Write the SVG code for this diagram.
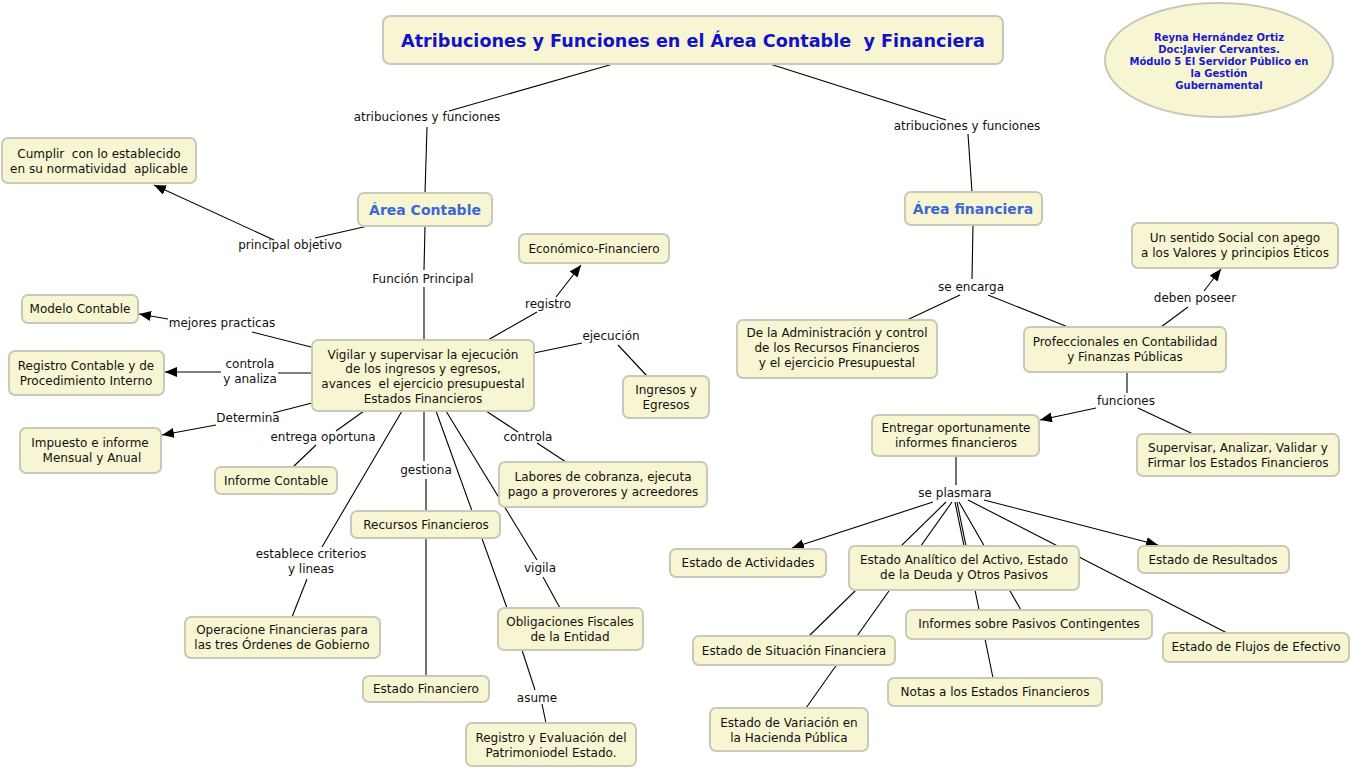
<svg xmlns="http://www.w3.org/2000/svg" width="1352" height="770" viewBox="0 0 1352 770" xml:space="preserve">
<style>
text{white-space:pre}
.n rect{fill:#f8f6d2;stroke:#c9c9b9;stroke-width:2}
.n text, .lbl text{font-family:"DejaVu Sans","Verdana",sans-serif;font-size:12px;fill:#111;text-anchor:middle}
.c line{stroke:#000;stroke-width:1.1;fill:none}
.c line.a{marker-end:url(#arr)}
.t{font-family:"DejaVu Sans",sans-serif;font-weight:bold;text-anchor:middle}
</style>
<defs>
<marker id="arr" markerUnits="userSpaceOnUse" markerWidth="13" markerHeight="11" refX="12" refY="5" orient="auto">
<path d="M0,0 L12,5 L0,10 z" fill="#000"/>
</marker>
</defs>
<rect width="1352" height="770" fill="#fff"/>

<g id="connectors" class="c">
<line x1="613" y1="64" x2="449" y2="111"/>
<line x1="427" y1="127" x2="425" y2="193"/>
<line x1="770" y1="64" x2="946" y2="120"/>
<line x1="968" y1="134" x2="972" y2="192"/>
<line x1="368" y1="226" x2="315" y2="238"/>
<line class="a" x1="274" y1="240" x2="154" y2="185"/>
<line x1="425" y1="226" x2="424" y2="270"/>
<line x1="424" y1="287" x2="424" y2="340"/>
<line x1="488" y1="340" x2="537" y2="312"/>
<line class="a" x1="556" y1="297" x2="581" y2="265"/>
<line x1="534" y1="353" x2="582" y2="343"/>
<line x1="618" y1="345" x2="647" y2="376"/>
<line x1="486" y1="411" x2="518" y2="432"/>
<line x1="537" y1="443" x2="566" y2="462"/>
<line x1="311" y1="347" x2="252" y2="332"/>
<line class="a" x1="168" y1="319" x2="139" y2="314"/>
<line x1="312" y1="373" x2="278" y2="373"/>
<line class="a" x1="221" y1="372" x2="165" y2="372"/>
<line x1="312" y1="403" x2="273" y2="413"/>
<line class="a" x1="216" y1="425" x2="162" y2="435"/>
<line x1="364" y1="411" x2="336" y2="431"/>
<line x1="316" y1="445" x2="293" y2="467"/>
<line x1="402" y1="411" x2="322" y2="547"/>
<line x1="307" y1="579" x2="292" y2="617"/>
<line x1="424" y1="411" x2="424" y2="461"/>
<line x1="426" y1="479" x2="426" y2="676"/>
<line x1="436" y1="411" x2="507" y2="608"/>
<line x1="446" y1="411" x2="537" y2="560"/>
<line x1="543" y1="577" x2="560" y2="608"/>
<line x1="522" y1="650" x2="535" y2="690"/>
<line x1="542" y1="704" x2="546" y2="723"/>
<line x1="973" y1="225" x2="972" y2="279"/>
<line x1="960" y1="295" x2="907" y2="320"/>
<line x1="988" y1="295" x2="1068" y2="327"/>
<line x1="1161" y1="327" x2="1188" y2="307"/>
<line class="a" x1="1204" y1="291" x2="1221" y2="269"/>
<line x1="1127" y1="372" x2="1127" y2="393"/>
<line class="a" x1="1096" y1="408" x2="1040" y2="420"/>
<line x1="1138" y1="408" x2="1193" y2="434"/>
<line x1="956" y1="456" x2="956" y2="485"/>
<line class="a" x1="933" y1="502" x2="792" y2="548"/>
<line x1="946" y1="502" x2="809" y2="636"/>
<line x1="952" y1="502" x2="806" y2="708"/>
<line x1="955" y1="502" x2="964" y2="546"/>
<line x1="957" y1="502" x2="993" y2="678"/>
<line x1="959" y1="502" x2="1021" y2="610"/>
<line x1="968" y1="500" x2="1227" y2="633"/>
<line class="a" x1="984" y1="500" x2="1158" y2="545"/>
</g>

<g id="labels" class="lbl">
<text x="427" y="121">atribuciones y funciones</text>
<text x="967" y="130">atribuciones y funciones</text>
<text x="290" y="249">principal objetivo</text>
<text x="423" y="283">Función Principal</text>
<text x="548" y="308">registro</text>
<text x="611" y="340">ejecución</text>
<text x="222" y="327">mejores practicas</text>
<text x="250" y="368">controla</text>
<text x="250" y="383">y analiza</text>
<text x="248" y="422">Determina</text>
<text x="323" y="441">entrega oportuna</text>
<text x="528" y="441">controla</text>
<text x="426" y="474">gestiona</text>
<text x="311" y="558">establece criterios</text>
<text x="311" y="573">y lineas</text>
<text x="540" y="572">vigila</text>
<text x="537" y="702">asume</text>
<text x="971" y="291">se encarga</text>
<text x="1195" y="302">deben poseer</text>
<text x="1126" y="405">funciones</text>
<text x="955" y="497">se plasmara</text>
</g>

<g id="title" class="n"><rect x="383" y="16" width="620" height="48" rx="7"/><text class="t" x="693" y="47" style="font-size:17.6px;fill:#1212c8">Atribuciones y Funciones en el Área Contable  y Financiera</text></g>

<g id="autor"><ellipse cx="1219" cy="60" rx="114" ry="57" fill="#f8f6d2" stroke="#c9c9b9" stroke-width="2"/>
<text class="t" style="font-size:10px;fill:#1a1acc"><tspan x="1219" y="41">Reyna Hernández Ortiz</tspan><tspan x="1219" y="53">Doc:Javier Cervantes.</tspan><tspan x="1219" y="65">Módulo 5 El Servidor Público en</tspan><tspan x="1219" y="77">la Gestión</tspan><tspan x="1219" y="89">Gubernamental</tspan></text></g>

<g id="areaContable" class="n"><rect x="358" y="193" width="134" height="33" rx="6"/><text class="t" x="425" y="215" style="font-size:14px;fill:#3b66d8">Área Contable</text></g>
<g id="areaFinanciera" class="n"><rect x="905" y="192" width="137" height="33" rx="6"/><text class="t" x="973" y="214" style="font-size:14px;fill:#3b66d8">Área financiera</text></g>

<g id="cumplir" class="n"><rect x="2" y="138" width="194" height="45" rx="6"/><text><tspan x="99" y="158">Cumplir  con lo establecido</tspan><tspan x="99" y="173">en su normatividad  aplicable</tspan></text></g>
<g id="modelo" class="n"><rect x="22" y="295" width="116" height="28" rx="6"/><text x="80" y="313">Modelo Contable</text></g>
<g id="registroContable" class="n"><rect x="9" y="351" width="155" height="44" rx="6"/><text><tspan x="86" y="370">Registro Contable y de</tspan><tspan x="86" y="385">Procedimiento Interno</tspan></text></g>
<g id="impuesto" class="n"><rect x="20" y="428" width="141" height="45" rx="6"/><text><tspan x="90" y="447">Impuesto e informe</tspan><tspan x="90" y="462"> Mensual y Anual</tspan></text></g>
<g id="informeContable" class="n"><rect x="215" y="467" width="122" height="27" rx="6"/><text x="276" y="485">Informe Contable</text></g>
<g id="vigilar" class="n"><rect x="312" y="340" width="222" height="71" rx="6"/><text><tspan x="423" y="359">Vigilar y supervisar la ejecución</tspan><tspan x="423" y="373">de los ingresos y egresos,</tspan><tspan x="423" y="388">avances  el ejercicio presupuestal</tspan><tspan x="423" y="403">Estados Financieros</tspan></text></g>
<g id="economico" class="n"><rect x="519" y="234" width="150" height="29" rx="6"/><text x="594" y="253">Económico-Financiero</text></g>
<g id="ingresos" class="n"><rect x="623" y="376" width="86" height="42" rx="6"/><text><tspan x="666" y="394">Ingresos y</tspan><tspan x="666" y="409">Egresos</tspan></text></g>
<g id="labores" class="n"><rect x="499" y="462" width="208" height="45" rx="6"/><text><tspan x="603" y="481">Labores de cobranza, ejecuta</tspan><tspan x="603" y="496">pago a proverores y acreedores</tspan></text></g>
<g id="recursos" class="n"><rect x="351" y="511" width="149" height="27" rx="6"/><text x="426" y="529">Recursos Financieros</text></g>
<g id="operacione" class="n"><rect x="185" y="617" width="195" height="41" rx="6"/><text><tspan x="282" y="634">Operacione Financieras para</tspan><tspan x="282" y="649">las tres Órdenes de Gobierno</tspan></text></g>
<g id="obligaciones" class="n"><rect x="498" y="608" width="145" height="42" rx="6"/><text><tspan x="570" y="626">Obligaciones Fiscales</tspan><tspan x="570" y="641">de la Entidad</tspan></text></g>
<g id="estadoFinanciero" class="n"><rect x="363" y="676" width="126" height="26" rx="6"/><text x="426" y="693">Estado Financiero</text></g>
<g id="registroEvaluacion" class="n"><rect x="466" y="723" width="170" height="43" rx="6"/><text><tspan x="551" y="742">Registro y Evaluación del</tspan><tspan x="551" y="757">Patrimoniodel Estado.</tspan></text></g>

<g id="administracion" class="n"><rect x="737" y="320" width="200" height="58" rx="6"/><text><tspan x="837" y="337">De la Administración y control</tspan><tspan x="837" y="352">de los Recursos Financieros</tspan><tspan x="837" y="367">y el ejercicio Presupuestal</tspan></text></g>
<g id="profeccionales" class="n"><rect x="1024" y="327" width="202" height="45" rx="6"/><text><tspan x="1125" y="346">Profeccionales en Contabilidad</tspan><tspan x="1125" y="361">y Finanzas Públicas</tspan></text></g>
<g id="sentido" class="n"><rect x="1132" y="223" width="206" height="45" rx="6"/><text><tspan x="1235" y="242">Un sentido Social con apego</tspan><tspan x="1235" y="257">a los Valores y principios Éticos</tspan></text></g>
<g id="entregar" class="n"><rect x="872" y="415" width="167" height="41" rx="6"/><text><tspan x="956" y="432">Entregar oportunamente</tspan><tspan x="956" y="447">informes financieros</tspan></text></g>
<g id="supervisar" class="n"><rect x="1137" y="434" width="202" height="42" rx="6"/><text><tspan x="1238" y="452">Supervisar, Analizar, Validar y</tspan><tspan x="1238" y="467">Firmar los Estados Financieros</tspan></text></g>
<g id="actividades" class="n"><rect x="670" y="549" width="156" height="28" rx="6"/><text x="748" y="567">Estado de Actividades</text></g>
<g id="analitico" class="n"><rect x="849" y="546" width="230" height="44" rx="6"/><text><tspan x="964" y="564">Estado Analítico del Activo, Estado</tspan><tspan x="964" y="579">de la Deuda y Otros Pasivos</tspan></text></g>
<g id="resultados" class="n"><rect x="1138" y="546" width="151" height="27" rx="6"/><text x="1213" y="564">Estado de Resultados</text></g>
<g id="situacion" class="n"><rect x="693" y="636" width="202" height="29" rx="6"/><text x="794" y="655">Estado de Situación Financiera</text></g>
<g id="pasivos" class="n"><rect x="906" y="610" width="246" height="29" rx="6"/><text x="1029" y="628">Informes sobre Pasivos Contingentes</text></g>
<g id="flujos" class="n"><rect x="1163" y="633" width="186" height="29" rx="6"/><text x="1256" y="651">Estado de Flujos de Efectivo</text></g>
<g id="notas" class="n"><rect x="888" y="678" width="214" height="28" rx="6"/><text x="995" y="696">Notas a los Estados Financieros</text></g>
<g id="variacion" class="n"><rect x="710" y="708" width="158" height="43" rx="6"/><text><tspan x="789" y="727">Estado de Variación en</tspan><tspan x="789" y="742">la Hacienda Pública</tspan></text></g>
</svg>
